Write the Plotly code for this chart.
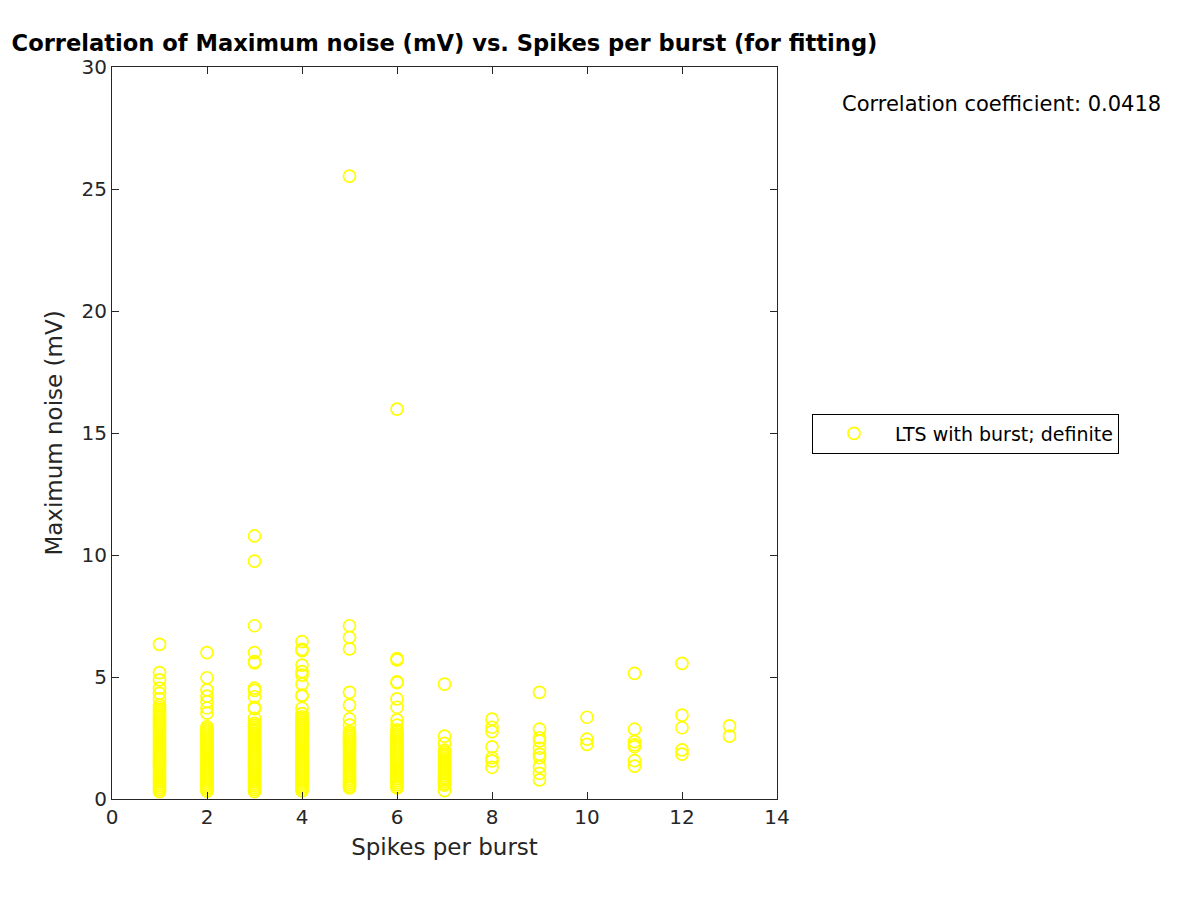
import plotly.graph_objects as go

# Maximum noise (mV) values, grouped by spikes per burst
noise_1 = [6.34, 5.18, 4.88, 4.54, 4.33, 4.10, 3.85, 3.75, 3.66, 3.58, 3.50, 3.42, 3.34, 3.26,
           3.18, 3.10, 3.02, 2.94, 2.86, 2.78, 2.70, 2.62, 2.54, 2.46, 2.38, 2.30, 2.22, 2.14,
           2.06, 1.98, 1.90, 1.82, 1.74, 1.66, 1.58, 1.50, 1.42, 1.34, 1.26, 1.18, 1.10, 1.02,
           0.94, 0.86, 0.78, 0.70, 0.62, 0.54, 0.46, 0.38, 0.30]
noise_2 = [6.00, 4.97, 4.47, 4.22, 3.99, 3.73, 3.52, 2.96, 2.88, 2.80, 2.72, 2.64, 2.56, 2.48,
           2.40, 2.32, 2.24, 2.16, 2.08, 2.00, 1.92, 1.84, 1.76, 1.68, 1.60, 1.52, 1.44, 1.36,
           1.28, 1.20, 1.12, 1.04, 0.96, 0.88, 0.80, 0.72, 0.64, 0.56, 0.48, 0.40, 0.32]
noise_3 = [10.78, 9.75, 7.10, 6.00, 5.63, 5.58, 4.54, 4.45, 4.19, 3.76, 3.70, 3.31, 3.10, 3.02,
           2.94, 2.86, 2.78, 2.70, 2.62, 2.54, 2.46, 2.38, 2.30, 2.22, 2.14, 2.06, 1.98, 1.90,
           1.82, 1.74, 1.66, 1.58, 1.50, 1.42, 1.34, 1.26, 1.18, 1.10, 1.02, 0.94, 0.86, 0.78,
           0.70, 0.62, 0.54, 0.46, 0.38, 0.30]
noise_4 = [6.45, 6.13, 6.08, 5.49, 5.22, 5.08, 4.71, 4.26, 4.22, 3.72, 3.50, 3.37, 3.29, 3.21,
           3.13, 3.05, 2.97, 2.89, 2.81, 2.73, 2.65, 2.57, 2.49, 2.41, 2.33, 2.25, 2.17, 2.09,
           2.01, 1.93, 1.85, 1.77, 1.69, 1.61, 1.53, 1.45, 1.37, 1.29, 1.21, 1.13, 1.05, 0.97,
           0.89, 0.81, 0.73, 0.65, 0.57, 0.49, 0.41, 0.33]
noise_5 = [25.53, 7.10, 6.62, 6.15, 4.37, 3.85, 3.28, 3.03, 2.76, 2.68, 2.60, 2.52, 2.44, 2.36,
           2.28, 2.20, 2.12, 2.04, 1.96, 1.88, 1.80, 1.72, 1.64, 1.56, 1.48, 1.40, 1.32, 1.24,
           1.16, 1.08, 1.00, 0.92, 0.84, 0.76, 0.68, 0.60, 0.52, 0.45]
noise_6 = [15.98, 5.75, 5.70, 4.80, 4.77, 4.10, 3.76, 3.24, 3.03, 2.83, 2.75, 2.67, 2.59, 2.51,
           2.43, 2.35, 2.27, 2.19, 2.11, 2.03, 1.95, 1.87, 1.79, 1.71, 1.63, 1.55, 1.47, 1.39,
           1.31, 1.23, 1.15, 1.07, 0.99, 0.91, 0.83, 0.75, 0.67, 0.59, 0.51, 0.45]
noise_7 = [4.71, 2.58, 2.28, 2.00, 1.92, 1.84, 1.76, 1.68, 1.60, 1.52, 1.44, 1.36, 1.28, 1.20,
           1.12, 1.04, 0.96, 0.88, 0.80, 0.72, 0.64, 0.57, 0.34]
noise_8 = [3.27, 2.94, 2.76, 2.14, 1.69, 1.56, 1.30]
noise_9 = [4.37, 2.86, 2.51, 2.38, 2.08, 1.83, 1.69, 1.33, 1.05, 0.78]
noise_10 = [3.35, 2.45, 2.24]
noise_11 = [5.15, 2.86, 2.35, 2.22, 2.14, 1.57, 1.35]
noise_12 = [5.56, 3.44, 2.92, 2.01, 1.84]
noise_13 = [3.00, 2.58]

groups = [noise_1, noise_2, noise_3, noise_4, noise_5, noise_6, noise_7,
          noise_8, noise_9, noise_10, noise_11, noise_12, noise_13]
spikes = []
noise = []
for n, vals in enumerate(groups, start=1):
    spikes += [n] * len(vals)
    noise += vals

corr_text = "Correlation coefficient: 0.0418"
series_name = "LTS with burst; definite"

ink = "#262626"
font = "DejaVu Sans"

fig = go.Figure(go.Scatter(
    x=spikes, y=noise, mode="markers", name=series_name,
    marker=dict(symbol="circle-open", size=12, color="#ffff00", line=dict(width=1.7, color="#ffff00")),
))

axis_common = dict(
    showgrid=False, zeroline=False, showline=True, linecolor=ink, linewidth=1,
    mirror="ticks", ticks="inside", ticklen=7, tickcolor=ink, tickwidth=1,
    tickfont=dict(family=font, size=20, color=ink),
)

# the page body adds an 8px offset, so margins are shifted to compensate
fig.update_layout(
    width=1200, height=900,
    margin=dict(l=104, r=431, t=59, b=109, autoexpand=False),
    paper_bgcolor="white", plot_bgcolor="white",
    title=dict(text="<b>Correlation of Maximum noise (mV) vs. Spikes per burst (for fitting)</b>",
               x=0.5, xref="paper", xanchor="center", y=0.961, yref="container", yanchor="middle",
               font=dict(family=font, size=22.6, color="black")),
    xaxis=dict(range=[0, 14], dtick=2, tick0=0,
               title=dict(text="Spikes per burst", font=dict(family=font, size=23, color=ink), standoff=10),
               **axis_common),
    yaxis=dict(range=[0, 30], dtick=5, tick0=0,
               title=dict(text="Maximum noise (mV)", font=dict(family=font, size=23, color=ink), standoff=12),
               **axis_common),
    showlegend=True,
    legend=dict(x=1.0526, y=0.4993, xanchor="left", yanchor="middle",
                bgcolor="white", bordercolor="black", borderwidth=1,
                font=dict(family=font, size=19, color="black"), itemwidth=72),
    annotations=[dict(text=corr_text, xref="paper", yref="paper", x=1.338, y=0.9495,
                      xanchor="center", yanchor="middle", showarrow=False,
                      font=dict(family=font, size=21, color="black"))],
)

fig.write_html("out.html")
